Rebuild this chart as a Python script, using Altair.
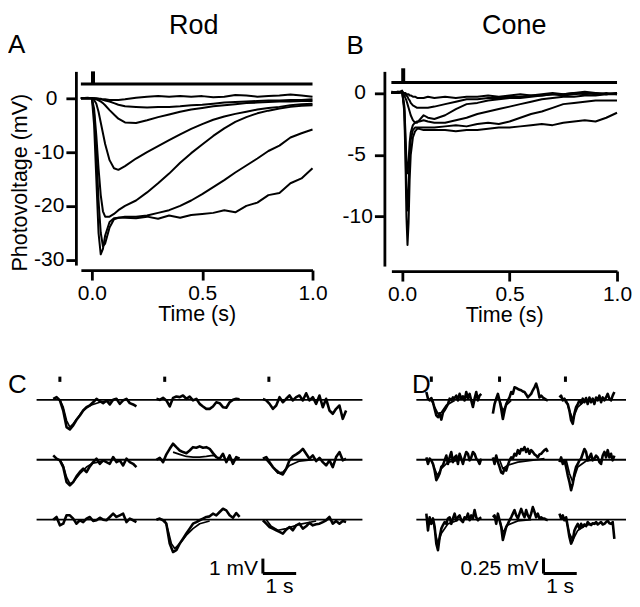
import altair as alt
import pandas as pd

FONT = "Liberation Sans"
INK = "black"

# ---------------- Panel A: rod photovoltage (mV) vs time (s) ----------------
T_ROD = [-0.05, -0.02, 0.0, 0.01, 0.02, 0.03, 0.04, 0.05, 0.06, 0.08, 0.1, 0.12, 0.15, 0.2, 0.25,
         0.3, 0.35, 0.4, 0.45, 0.5, 0.55, 0.6, 0.65, 0.7, 0.75, 0.8, 0.85, 0.9, 0.95, 1.0]
ROD_1 = [0.0, 0.1, 0.0, 0.0, 0.0, -0.1, -0.1, -0.2, -0.2, -0.3, -0.3, -0.3, -0.2, 0.1, 0.3,
         0.4, 0.3, 0.4, 0.3, 0.4, 0.2, 0.3, 0.6, 0.5, 0.3, 0.4, 0.5, 0.7, 0.5, 0.3]
ROD_2 = [0.0, 0.0, 0.0, 0.0, -0.1, -0.1, -0.2, -0.3, -0.4, -0.6, -0.9, -1.2, -1.5, -1.6, -1.7,
         -1.6, -1.6, -1.5, -1.3, -1.2, -1.0, -0.8, -0.7, -0.6, -0.5, -0.4, -0.4, -0.3, -0.3, -0.2]
ROD_3 = [0.0, 0.0, 0.0, -0.1, -0.2, -0.4, -0.6, -0.9, -1.3, -2.2, -3.0, -3.8, -4.5, -4.6, -4.1,
         -3.5, -3.0, -2.5, -2.1, -1.8, -1.5, -1.3, -1.1, -0.9, -0.8, -0.7, -0.6, -0.6, -0.5, -0.5]
ROD_4 = [0.0, 0.0, 0.0, -0.3, -1.0, -2.5, -4.5, -6.5, -8.5, -11.5, -13.0, -13.3, -12.6, -11.2, -10.0,
         -8.9, -7.8, -6.7, -5.7, -4.8, -4.0, -3.4, -2.9, -2.5, -2.1, -1.8, -1.6, -1.3, -1.1, -1.0]
ROD_5 = [0.0, 0.0, 0.0, -2.0, -7.0, -13.0, -18.0, -21.0, -22.0, -22.0, -21.5, -20.8, -20.0, -19.0, -17.5,
         -15.8, -14.0, -12.0, -10.2, -8.6, -7.0, -5.6, -4.4, -3.5, -2.8, -2.3, -1.9, -1.6, -1.4, -1.3]
ROD_6 = [0.0, 0.0, 0.0, -3.0, -10.0, -19.0, -25.0, -27.5, -27.0, -24.0, -22.5, -22.2, -22.0, -22.0, -21.8,
         -21.3, -20.8, -20.0, -19.0, -17.8, -16.5, -15.2, -13.8, -12.5, -11.2, -9.8, -8.8, -7.3, -6.5, -5.8]
ROD_7 = [0.0, 0.0, 0.0, -5.0, -15.0, -25.0, -29.0, -28.0, -25.5, -23.0, -22.3, -22.2, -22.2, -22.3, -22.0,
         -22.4, -21.8, -22.2, -21.7, -21.5, -21.3, -20.8, -21.2, -20.0, -19.4, -18.0, -17.6, -15.8, -14.9, -13.0]
ROD_TRACES = [ROD_1, ROD_2, ROD_3, ROD_4, ROD_5, ROD_6, ROD_7]
ROD_YTICKS = [0, -10, -20, -30]

# ---------------- Panel B: cone photovoltage (mV) vs time (s) ----------------
T_CONE = [-0.05, -0.02, 0.0, 0.01, 0.015, 0.02, 0.025, 0.03, 0.035, 0.04, 0.05, 0.06, 0.07, 0.08, 0.1,
          0.12, 0.15, 0.2, 0.25, 0.3, 0.35, 0.4, 0.45, 0.5, 0.55, 0.6, 0.65, 0.7, 0.75, 0.8, 0.85, 0.9, 0.95, 1.0]
CONE_1 = [0.0, 0.1, 0.1, 0.0, 0.0, -0.1, -0.1, -0.1, -0.2, -0.2, -0.3, -0.3, -0.4, -0.4, -0.4,
          -0.3, -0.4, -0.3, -0.4, -0.3, -0.3, -0.2, -0.3, -0.2, -0.1, -0.2, -0.1, 0.0, -0.1, 0.0, 0.1, 0.0, -0.1, 0.0]
CONE_2 = [0.0, 0.0, 0.1, 0.0, -0.1, -0.2, -0.3, -0.5, -0.6, -0.8, -1.0, -1.1, -1.2, -1.2, -1.2,
          -1.2, -1.1, -0.9, -0.7, -0.5, -0.5, -0.4, -0.4, -0.3, -0.3, -0.2, -0.2, -0.1, -0.2, -0.1, 0.0, -0.1, 0.0, -0.1]
CONE_3 = [0.0, 0.1, 0.0, -0.2, -0.4, -0.6, -0.9, -1.2, -1.5, -1.8, -2.2, -2.4, -2.4, -2.2, -1.8,
          -2.0, -2.1, -1.8, -1.3, -0.9, -0.8, -0.6, -0.5, -0.4, -0.4, -0.3, -0.2, -0.1, -0.1, 0.0, -0.1, 0.0, -0.1, 0.0]
CONE_4 = [0.0, 0.0, 0.1, -1.0, -3.0, -5.5, -6.5, -5.5, -4.0, -3.2, -2.6, -2.4, -2.3, -2.3, -2.2,
          -2.3, -2.4, -2.4, -2.2, -2.0, -1.7, -1.5, -1.3, -1.1, -0.9, -0.7, -0.5, -0.4, -0.3, -0.3, -0.2, -0.2, -0.1, -0.1]
CONE_5 = [0.1, 0.0, 0.1, -1.2, -4.0, -8.0, -9.5, -7.5, -5.0, -3.8, -3.0, -2.8, -2.8, -2.8, -2.8,
          -2.8, -2.8, -2.7, -2.6, -2.7, -2.5, -2.4, -2.5, -2.3, -2.0, -1.7, -1.5, -1.2, -0.9, -0.8, -0.7, -0.6, -0.6, -0.6]
CONE_6 = [0.1, 0.0, 0.2, -1.5, -5.0, -10.0, -12.3, -10.5, -7.0, -5.0, -3.6, -3.1, -2.9, -2.9, -3.0,
          -3.0, -3.0, -3.0, -3.1, -3.0, -3.0, -2.9, -2.8, -2.8, -2.7, -2.6, -2.5, -2.6, -2.4, -2.3, -2.2, -2.3, -2.0, -1.6]
CONE_TRACES = [CONE_1, CONE_2, CONE_3, CONE_4, CONE_5, CONE_6]
CONE_YTICKS = [0, -5, -10]
TIME_TICKS = [0.0, 0.5, 1.0]

# ---------------- Panel C: rod single-photon trials (mV), 3 rows x 3 trials ----------------
T_C = [0.0, 0.1, 0.2, 0.3, 0.4, 0.5, 0.6, 0.7, 0.8, 0.9, 1.0, 1.1, 1.2,
       1.3, 1.4, 1.5, 1.6, 1.7, 1.8, 1.9, 2.0, 2.1, 2.2, 2.3, 2.4, 2.5]
C_R1 = [
    [0.07, 0.18, -0.04, -0.71, -1.82, -1.98, -1.71, -1.33, -1.04, -0.71, -0.49, -0.38, -0.16,
     0.07, -0.09, -0.22, -0.04, -0.31, 0.0, 0.07, -0.27, -0.04, 0.07, -0.22, -0.31, -0.44],
    [0.07, 0.0, 0.13, -0.04, -0.44, 0.13, 0.22, 0.18, 0.29, 0.07, 0.22, -0.04, 0.07,
     -0.27, -0.44, -0.6, -0.6, -0.44, -0.16, -0.22, -0.49, -0.53, -0.16, 0.0, 0.07, 0.04],
    [0.07, -0.04, -0.27, -0.6, -0.38, 0.18, -0.16, 0.07, 0.29, -0.04, 0.18, 0.29, -0.04,
     0.44, -0.04, 0.18, -0.27, 0.29, -0.49, 0.07, -0.71, -0.93, -0.6, -0.38, -1.27, -0.71],
]
C_R2 = [
    [0.29, 0.07, -0.04, -0.49, -1.49, -1.71, -1.49, -1.11, -0.82, -0.6, -0.82, -0.44, -0.16,
     0.07, -0.27, -0.04, -0.16, -0.27, 0.18, -0.16, -0.04, -0.38, 0.07, -0.16, -0.27, -0.49],
    [0.0, 0.13, -0.16, 0.36, 0.73, 1.07, 0.84, 0.62, 0.51, 0.44, 0.62, 0.84, 0.8,
     0.89, 0.8, 0.84, 0.73, 0.44, 0.18, 0.07, 0.4, -0.16, 0.29, -0.27, 0.18, 0.07],
    [0.07, 0.18, -0.16, -0.49, -0.71, -0.89, -0.98, -0.6, -0.04, 0.22, 0.36, 0.51, 0.73,
     0.4, 0.07, 0.29, -0.09, 0.13, -0.16, -0.38, -0.04, -0.49, 0.18, 0.51, -0.04, 0.07],
]
C_R3 = [
    [0.0, 0.18, -0.38, -0.27, 0.29, 0.29, 0.07, -0.27, -0.04, -0.16, 0.07, 0.18, -0.09,
     -0.04, 0.13, 0.0, -0.04, 0.18, 0.4, 0.18, 0.29, 0.4, -0.16, 0.07, -0.04, -0.16],
    [0.0, 0.07, -0.04, -0.27, -1.6, -2.16, -2.04, -1.6, -1.27, -0.93, -0.6, -0.27, -0.16,
     -0.04, 0.07, 0.18, 0.22, 0.4, 0.29, 0.51, 0.73, 0.62, 0.29, 0.13, 0.44, 0.18],
    [-0.04, -0.27, -0.49, -0.6, -0.71, -0.82, -0.93, -0.67, -0.49, -0.71, -0.38, -0.27, -0.6,
     -0.44, -0.22, -0.38, -0.31, -0.27, -0.16, -0.04, 0.18, -0.27, -0.09, -0.27, -0.09, -0.16],
]
C_TRIALS = [C_R1, C_R2, C_R3]
# overlaid mean responses: (row, trial) -> (times, mV)
C_FITS = {
    (0, 0): ([0.2, 0.3, 0.4, 0.5, 0.6, 0.75, 0.9, 1.1, 1.4, 1.8],
             [0.0, -0.49, -1.38, -1.82, -1.6, -1.16, -0.71, -0.38, -0.16, -0.04]),
    (1, 0): ([0.2, 0.3, 0.4, 0.5, 0.6, 0.8, 1.0, 1.2, 1.5],
             [0.0, -0.38, -1.16, -1.6, -1.49, -0.93, -0.49, -0.22, -0.09]),
    (1, 1): ([0.5, 0.7, 0.9, 1.1, 1.3, 1.5, 1.7, 1.8],
             [0.51, 0.36, 0.22, 0.18, 0.18, 0.22, 0.29, 0.22]),
    (1, 2): ([0.1, 0.25, 0.45, 0.6, 0.8, 1.1, 1.5],
             [0.0, -0.38, -0.89, -0.82, -0.38, -0.09, 0.0]),
    (2, 1): ([0.25, 0.35, 0.45, 0.55, 0.7, 0.9, 1.1, 1.3, 1.6],
             [0.0, -0.71, -1.6, -1.93, -1.6, -1.04, -0.6, -0.27, -0.09]),
    (2, 2): ([0.1, 0.25, 0.45, 0.7, 1.1, 1.6],
             [0.0, -0.44, -0.71, -0.6, -0.31, -0.09]),
}

# ---------------- Panel D: cone single-photon trials (mV) ----------------
T_D = [0.0, 0.05, 0.1, 0.15, 0.2, 0.25, 0.3, 0.35, 0.4, 0.45, 0.5, 0.55, 0.6, 0.65, 0.7, 0.75, 0.8,
       0.85, 0.9, 0.95, 1.0, 1.05, 1.1, 1.15, 1.2, 1.25, 1.3, 1.35, 1.4, 1.45, 1.5, 1.55, 1.6, 1.65]
D_R1 = [
    [0.13, 0.02, -0.01, 0.03, -0.04, -0.15, -0.26, -0.29, -0.23, -0.33, -0.21, -0.17, -0.12, -0.07, 0.02, -0.01, 0.04,
     0.03, 0.07, -0.01, 0.1, 0.02, 0.06, -0.01, 0.13, 0.03, 0.1, -0.01, -0.12, 0.02, 0.13, -0.01, 0.07, 0.1],
    [-0.23, -0.07, 0.02, 0.1, -0.01, -0.15, -0.32, -0.18, -0.07, -0.01, 0.04, 0.13, 0.1, 0.21, 0.2, 0.18, 0.17,
     0.16, 0.14, 0.13, 0.09, 0.04, 0.07, 0.1, 0.16, 0.21, 0.27, 0.18, 0.04, 0.07, 0.04, 0.02, 0.0, -0.01],
    [0.04, 0.07, -0.01, 0.02, -0.04, -0.07, -0.18, -0.34, -0.4, -0.23, -0.12, -0.07, -0.01, -0.06, 0.02, -0.04, 0.03,
     -0.07, 0.04, -0.04, 0.02, -0.07, 0.04, -0.01, 0.07, -0.04, 0.04, -0.01, 0.04, 0.1, 0.02, -0.01, 0.07, 0.13],
]
D_R2 = [
    [0.04, -0.07, 0.02, -0.01, -0.07, -0.18, -0.34, -0.29, -0.23, -0.12, -0.09, -0.01, 0.07, -0.07, 0.04, 0.13, -0.04,
     0.04, 0.07, -0.07, 0.1, 0.02, -0.07, 0.04, 0.13, 0.1, -0.01, 0.04, 0.13, 0.1, 0.02, -0.01, -0.07, 0.02],
    [0.04, -0.07, 0.07, -0.04, -0.12, -0.21, -0.23, -0.15, -0.18, -0.09, -0.01, 0.04, 0.02, 0.1, 0.07, 0.16, 0.1,
     0.18, 0.16, 0.21, 0.13, 0.18, 0.1, 0.16, 0.13, 0.09, 0.07, 0.04, 0.09, 0.1, 0.13, 0.16, 0.18, 0.13],
    [-0.04, 0.04, -0.07, -0.01, -0.12, -0.26, -0.37, -0.51, -0.4, -0.23, -0.12, -0.07, -0.01, 0.02, 0.1, 0.18, 0.13,
     -0.01, 0.04, 0.1, -0.01, 0.02, 0.07, 0.04, -0.04, -0.07, 0.07, 0.13, 0.04, 0.16, 0.04, 0.1, -0.01, 0.07],
]
D_R3 = [
    [0.1, -0.18, 0.04, -0.07, 0.02, -0.12, -0.4, -0.51, -0.29, -0.15, -0.09, -0.04, -0.07, 0.02, 0.04, -0.07, 0.02,
     0.1, -0.01, 0.04, 0.07, -0.01, -0.04, 0.04, 0.02, 0.1, -0.01, 0.07, 0.02, 0.16, 0.04, -0.01, 0.02, 0.04],
    [0.04, 0.07, -0.07, 0.1, -0.01, -0.12, -0.34, -0.23, -0.12, -0.07, -0.01, 0.04, 0.1, 0.16, 0.07, 0.02, 0.1,
     0.18, 0.1, 0.04, 0.16, 0.07, 0.02, 0.1, 0.21, 0.13, 0.04, 0.1, 0.02, 0.04, 0.02, 0.02, 0.0, -0.01],
    [0.1, 0.02, 0.07, -0.01, 0.04, -0.12, -0.29, -0.4, -0.34, -0.18, -0.12, -0.07, -0.15, -0.07, -0.12, -0.08, -0.11,
     -0.04, -0.07, -0.09, -0.06, -0.07, -0.04, -0.08, -0.06, -0.04, -0.08, -0.07, -0.04, -0.02, -0.06, -0.07, -0.04, -0.32],
]
D_TRIALS = [D_R1, D_R2, D_R3]
D_FITS = {
    (0, 0): ([0.15, 0.25, 0.35, 0.45, 0.6, 0.85], [0.0, -0.12, -0.23, -0.21, -0.09, -0.01]),
    (0, 1): ([0.2, 0.3, 0.4, 0.55], [0.0, -0.18, -0.09, -0.01]),
    (0, 2): ([0.2, 0.3, 0.4, 0.55, 0.75], [0.0, -0.18, -0.32, -0.12, -0.02]),
    (1, 0): ([0.15, 0.25, 0.33, 0.45, 0.65, 0.95], [0.0, -0.15, -0.26, -0.15, -0.04, -0.01]),
    (1, 1): ([0.2, 0.3, 0.45, 0.75, 1.15, 1.55], [0.0, -0.15, -0.09, -0.04, -0.01, 0.02]),
    (1, 2): ([0.2, 0.3, 0.4, 0.55, 0.8, 1.15], [0.0, -0.23, -0.37, -0.12, -0.02, 0.0]),
    (2, 0): ([0.2, 0.27, 0.35, 0.45, 0.65, 0.95], [0.0, -0.23, -0.4, -0.23, -0.07, -0.01]),
    (2, 1): ([0.2, 0.3, 0.45, 0.75, 1.15], [0.0, -0.21, -0.09, -0.02, 0.0]),
    (2, 2): ([0.2, 0.3, 0.4, 0.55, 0.8, 1.15], [0.0, -0.23, -0.34, -0.18, -0.09, -0.06]),
}

# ---------------- layout constants (positions, not data) ----------------
C_COL_START = [0.0, 3.1, 6.3]
C_ROW_BASE = [0.0, -4.0, -8.0]
C_FLASH = [0.2, 3.35, 6.48]
D_COL_START = [0.0, 2.0, 4.0]
D_ROW_BASE = [0.0, -1.0, -2.0]
D_FLASH = [0.15, 2.2, 4.18]

AX = dict(domainColor=INK, domainWidth=2.8, tickColor=INK, tickWidth=2.8, tickSize=10,
          labelFont=FONT, labelFontSize=21, labelColor=INK,
          titleFont=FONT, titleFontSize=21.5, titleFontWeight="normal", titleColor=INK, grid=False)
# single-digit labels sit further from the axis than two-digit ones (as in the original)
Y_LABEL_PAD = {"condition": {"test": "abs(datum.value) < 10", "value": 9}, "value": 2}


def text_layer(label, x, y, size, align="left", baseline="top"):
    return alt.Chart(pd.DataFrame({"s": [label]})).mark_text(
        font=FONT, fontSize=size, color=INK, align=align, baseline=baseline
    ).encode(text="s:N", x=x, y=y)


def response_panel(t, traces, ydom, yticks, w, h, ytitle, yoff, stim_lo, stim_hi,
                   title, title_dx, title_y, letter, letter_x, letter_y):
    rows = []
    for i, s in enumerate(traces):
        for j, (tt, vv) in enumerate(zip(t, s)):
            rows.append({"t": tt, "v": vv, "trace": i, "i": j})
    df = pd.DataFrame(rows)
    xs = alt.Scale(domain=[-0.05, 1.0], nice=False, zero=False)
    ys = alt.Scale(domain=ydom, nice=False, zero=False)
    xax = alt.Axis(values=TIME_TICKS, format=".1f", title="Time (s)", offset=5, labelFlush=False,
                   labelPadding=2, titlePadding=1, **AX)
    if ytitle:
        yax = alt.Axis(values=yticks, labelExpr="'' + datum.value", title=ytitle, offset=yoff,
                       labelPadding=Y_LABEL_PAD, titlePadding=2, titleY=h / 2 + 14, **AX)
    else:
        yax = alt.Axis(values=yticks, labelExpr="'' + datum.value", title=None, offset=yoff,
                       labelPadding=Y_LABEL_PAD, **AX)
    X = alt.X("t:Q", scale=xs, axis=xax)
    Y = alt.Y("v:Q", scale=ys, axis=yax)
    lines = alt.Chart(df).mark_line(color=INK, strokeWidth=2.0, strokeJoin="round").encode(
        x=X, y=Y, detail="trace:N", order="i:Q")
    stim = alt.Chart(pd.DataFrame({"t": [-0.05], "t2": [1.0], "v": [stim_lo]})).mark_rule(
        color=INK, strokeWidth=3).encode(x=X, x2="t2:Q", y=Y)
    pulse = alt.Chart(pd.DataFrame({"t": [0.005], "v": [stim_lo], "v2": [stim_hi]})).mark_rule(
        color=INK, strokeWidth=4).encode(x=X, y=Y, y2="v2:Q")
    ttl = text_layer(title, alt.value(w / 2 + title_dx), alt.value(title_y), 27, align="center")
    let = text_layer(letter, alt.value(letter_x), alt.value(letter_y), 26)
    return alt.layer(lines, stim, pulse, ttl, let).properties(width=w, height=h)


def trial_panel(trials, fits, t_rel, col_start, row_base, flash, flash_lo, flash_hi,
                line_start, xdom, ydom, w, h, bar_t, bar_lo, bar_hi, bar_label,
                letter, letter_x, letter_y):
    rows = []
    for r, row in enumerate(trials):
        for c, s in enumerate(row):
            for j, (tt, vv) in enumerate(zip(t_rel, s)):
                rows.append({"t": tt + col_start[c], "v": vv + row_base[r], "k": f"{r}{c}", "i": j})
    df = pd.DataFrame(rows)
    frows = []
    for (r, c), (ft, fv) in fits.items():
        for j, (tt, vv) in enumerate(zip(ft, fv)):
            frows.append({"t": tt + col_start[c], "v": vv + row_base[r], "k": f"{r}{c}", "i": j})
    fdf = pd.DataFrame(frows)
    X = alt.X("t:Q", scale=alt.Scale(domain=xdom, nice=False, zero=False), axis=None)
    Y = alt.Y("v:Q", scale=alt.Scale(domain=ydom, nice=False, zero=False), axis=None)
    base = alt.Chart(pd.DataFrame({"t": [line_start] * 3, "t2": [xdom[1]] * 3, "v": row_base})).mark_rule(
        color=INK, strokeWidth=1.8).encode(x=X, x2="t2:Q", y=Y)
    marks = alt.Chart(pd.DataFrame({"t": flash, "v": [flash_lo] * 3, "v2": [flash_hi] * 3})).mark_rule(
        color=INK, strokeWidth=3).encode(x=X, y=Y, y2="v2:Q")
    lines = alt.Chart(df).mark_line(color=INK, strokeWidth=2.6, strokeJoin="round").encode(
        x=X, y=Y, detail="k:N", order="i:Q")
    fitl = alt.Chart(fdf).mark_line(color=INK, strokeWidth=1.7, strokeJoin="round").encode(
        x=X, y=Y, detail="k:N", order="i:Q")
    vbar = alt.Chart(pd.DataFrame({"t": [bar_t], "v": [bar_lo], "v2": [bar_hi]})).mark_rule(
        color=INK, strokeWidth=3).encode(x=X, y=Y, y2="v2:Q")
    hbar = alt.Chart(pd.DataFrame({"t": [bar_t], "t2": [bar_t + 1.0], "v": [bar_lo]})).mark_rule(
        color=INK, strokeWidth=3).encode(x=X, x2="t2:Q", y=Y)
    vlab = alt.Chart(pd.DataFrame({"t": [bar_t], "v": [bar_lo], "s": [bar_label]})).mark_text(
        font=FONT, fontSize=21, color=INK, align="right", baseline="alphabetic", dx=-5, dy=1
    ).encode(x=X, y=Y, text="s:N")
    tlab = alt.Chart(pd.DataFrame({"t": [bar_t + 0.5], "v": [bar_lo], "s": ["1 s"]})).mark_text(
        font=FONT, fontSize=21, color=INK, align="center", baseline="top", dy=2
    ).encode(x=X, y=Y, text="s:N")
    let = text_layer(letter, alt.value(letter_x), alt.value(letter_y), 26)
    return alt.layer(base, marks, lines, fitl, vbar, hbar, vlab, tlab, let).properties(width=w, height=h)


A = response_panel(T_ROD, ROD_TRACES, [-31, 5], ROD_YTICKS, 232, 194, "Photovoltage (mV)", 5,
                   2.65, 5.0, "Rod", -3, -58, "A", -73, -39)
B = response_panel(T_CONE, CONE_TRACES, [-14, 1.75], CONE_YTICKS, 226, 195, None, 7,
                   0.85, 2.0, "Cone", 10, -58, "B", -45, -38)
C = trial_panel(C_TRIALS, C_FITS, T_C, C_COL_START, C_ROW_BASE, C_FLASH, 1.2, 1.55,
                -0.5, [0.831, 9.291], [-11.6, 1.6], 282, 198, 6.3, -11.6, -10.6, "1 mV", "C", -73, -3.5)
D = trial_panel(D_TRIALS, D_FITS, T_D, D_COL_START, D_ROW_BASE, D_FLASH, 0.3, 0.39,
                -0.3, [-0.3, 6.0], [-2.9, 0.4], 210, 198, 3.52, -2.9, -2.65, "0.25 mV", "D", -4.3, -3.5)

top = alt.hconcat(A, B, spacing=14)
bottom = alt.hconcat(C, D, spacing=48)
chart = alt.vconcat(top, bottom, spacing=45).properties(
    padding={"left": 0, "top": 4, "right": 0, "bottom": 0}, background="white"
).configure_view(stroke=None)

chart.save("out.html", embed_options={"renderer": "svg", "actions": False})
